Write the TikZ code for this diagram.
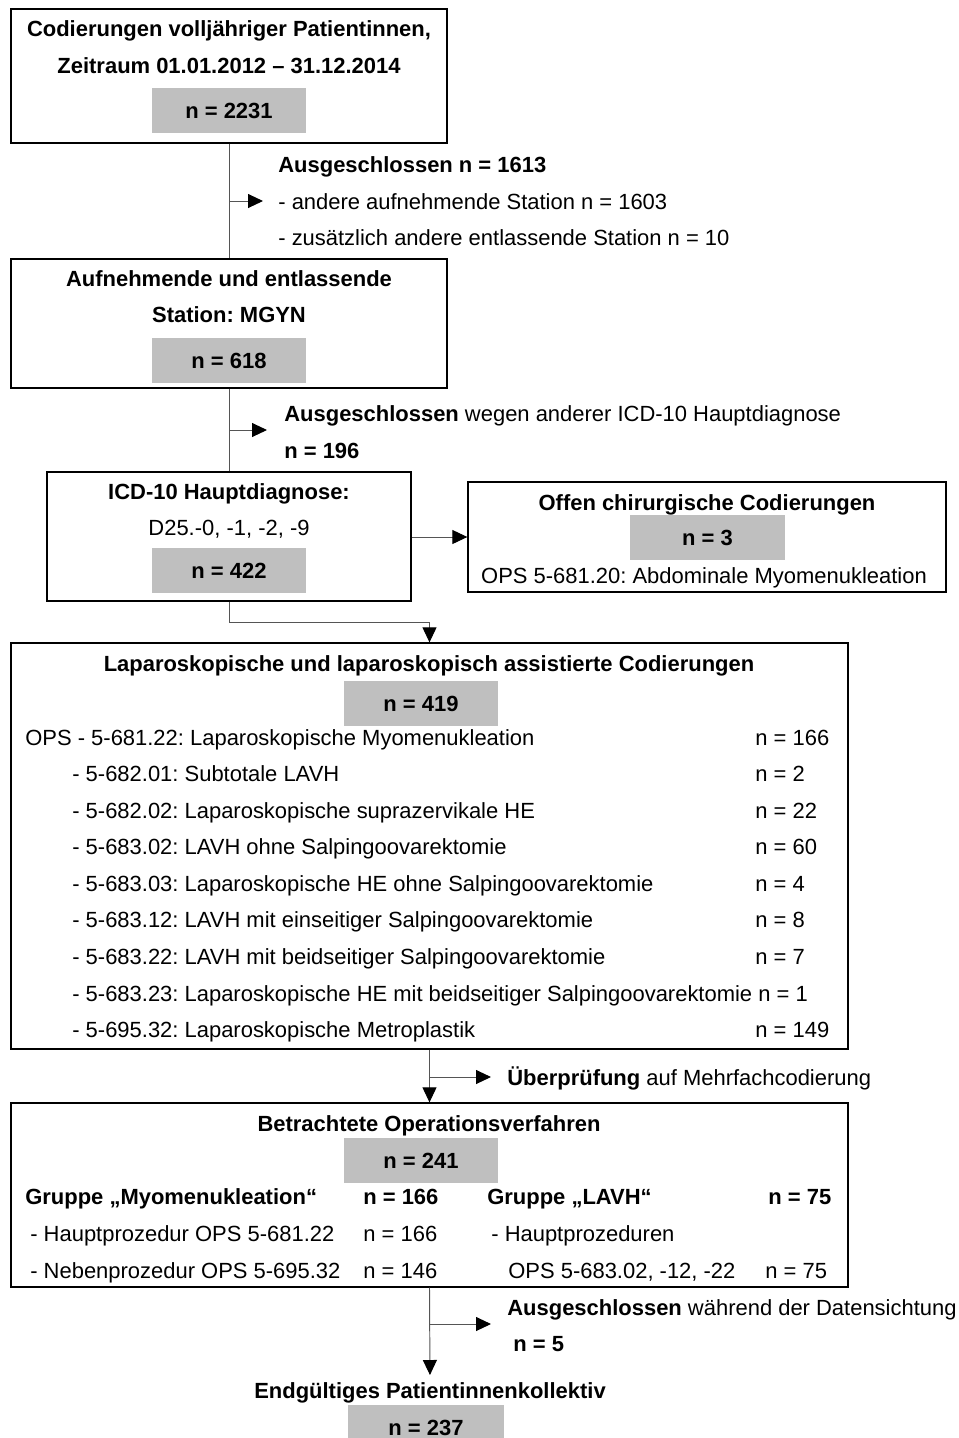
\documentclass[tikz,border=0pt]{standalone}
\usepackage{fontspec}
\setmainfont{Liberation Sans}
\usetikzlibrary{arrows.meta, fit}

\definecolor{nfill}{RGB}{191,191,191}
\definecolor{linegray}{RGB}{85,85,85}

\begin{document}
\frenchspacing
\fontsize{12.5}{15}\selectfont
\begin{tikzpicture}[x=0.02cm, y=-0.02cm,
    box/.style={draw=black, line width=0.75pt, inner sep=0pt},
    nbox/.style={fill=nfill, inner sep=0pt},
    txt/.style={inner sep=0pt, anchor=mid west, yshift=-1.4pt},
    ctxt/.style={inner sep=0pt, anchor=mid, yshift=-1.4pt},
    conn/.style={draw=linegray, line width=0.55pt},
    arr/.style={conn, -{Triangle[length=3mm, width=2.8mm, color=black]}}]

    \useasboundingbox (0,0) rectangle (958,1438);

    % ===== Box 1: Codierungen =====
    \node[box, fit={(11,9) (447,143)}] (codierungen) {};
    \node[ctxt, font=\bfseries] (codTitleA) at (229,28) {Codierungen volljähriger Patientinnen,};
    \node[ctxt, font=\bfseries] (codTitleB) at (229,65) {Zeitraum 01.01.2012 – 31.12.2014};
    \node[nbox, fit={(152,88) (306,133)}] (codN) {};
    \node[ctxt, font=\bfseries] (codNText) at (codN) {n = 2231};

    % Exclusion: other ward
    \node[txt, font=\bfseries] (exclStationA) at (278,164) {Ausgeschlossen n = 1613};
    \node[txt] (exclStationB) at (278,201) {- andere aufnehmende Station n = 1603};
    \node[txt] (exclStationC) at (278,237) {- zusätzlich andere entlassende Station n = 10};
    \coordinate (exclStationEnd) at (263,201);

    % ===== Box 2: Station MGYN =====
    \node[box, fit={(11,259) (447,388)}] (station) {};
    \node[ctxt, font=\bfseries] (stationTitleA) at (229,278) {Aufnehmende und entlassende};
    \node[ctxt, font=\bfseries] (stationTitleB) at (229,314) {Station: MGYN};
    \node[nbox, fit={(152,338) (306,383)}] (stationN) {};
    \node[ctxt, font=\bfseries] (stationNText) at (stationN) {n = 618};

    % Exclusion: other main diagnosis
    \node[txt] (exclDiagA) at (284,413) {\textbf{Ausgeschlossen} wegen anderer ICD-10 Hauptdiagnose};
    \node[txt, font=\bfseries] (exclDiagB) at (284,450) {n = 196};
    \coordinate (exclDiagEnd) at (267,430);

    % ===== Box 3: ICD-10 =====
    \node[box, fit={(47,472) (411,601)}] (icd) {};
    \node[ctxt, font=\bfseries] (icdTitle) at (229,491) {ICD-10 Hauptdiagnose:};
    \node[ctxt] (icdCodes) at (229,527) {D25.-0, -1, -2, -9};
    \node[nbox, fit={(152,548) (306,593)}] (icdN) {};
    \node[ctxt, font=\bfseries] (icdNText) at (icdN) {n = 422};

    % ===== Box 4: Offen chirurgisch =====
    \node[box, fit={(468,482) (946,592)}] (offen) {};
    \node[ctxt, font=\bfseries] (offenTitle) at (707,502) {Offen chirurgische Codierungen};
    \node[nbox, fit={(630,515) (785,560)}] (offenN) {};
    \node[ctxt, font=\bfseries] (offenNText) at (offenN) {n = 3};
    \node[ctxt] (offenOps) at (704,575) {OPS 5-681.20: Abdominale Myomenukleation};

    % ===== Box 5: Laparoskopisch =====
    \node[box, fit={(11,643) (848,1049)}] (lapa) {};
    \node[ctxt, font=\bfseries] (lapaTitle) at (429,663) {Laparoskopische und laparoskopisch assistierte Codierungen};
    \node[nbox, fit={(344,681) (498,726)}] (lapaN) {};
    \node[ctxt, font=\bfseries] (lapaNText) at (lapaN) {n = 419};
    \node[txt] (lapaOpsA) at (25,737) {OPS - 5-681.22: Laparoskopische Myomenukleation};
    \node[txt] (lapaNA) at (755,737) {n = 166};
    \node[txt] (lapaOpsB) at (72,773) {- 5-682.01: Subtotale LAVH};
    \node[txt] (lapaNB) at (755,773) {n = 2};
    \node[txt] (lapaOpsC) at (72,810) {- 5-682.02: Laparoskopische suprazervikale HE};
    \node[txt] (lapaNC) at (755,810) {n = 22};
    \node[txt] (lapaOpsD) at (72,846) {- 5-683.02: LAVH ohne Salpingoovarektomie};
    \node[txt] (lapaND) at (755,846) {n = 60};
    \node[txt] (lapaOpsE) at (72,883) {- 5-683.03: Laparoskopische HE ohne Salpingoovarektomie};
    \node[txt] (lapaNE) at (755,883) {n = 4};
    \node[txt] (lapaOpsF) at (72,919) {- 5-683.12: LAVH mit einseitiger Salpingoovarektomie};
    \node[txt] (lapaNF) at (755,919) {n = 8};
    \node[txt] (lapaOpsG) at (72,956) {- 5-683.22: LAVH mit beidseitiger Salpingoovarektomie};
    \node[txt] (lapaNG) at (755,956) {n = 7};
    \node[txt] (lapaOpsH) at (72,993) {- 5-683.23: Laparoskopische HE mit beidseitiger Salpingoovarektomie n = 1};
    \node[txt] (lapaOpsI) at (72,1029) {- 5-695.32: Laparoskopische Metroplastik};
    \node[txt] (lapaNI) at (755,1029) {n = 149};

    % Check for multiple coding
    \node[txt] (pruef) at (507,1077) {\textbf{Überprüfung} auf Mehrfachcodierung};
    \coordinate (pruefEnd) at (491,1077);

    % ===== Box 6: Betrachtete Operationsverfahren =====
    \node[box, fit={(11,1103) (848,1287)}] (betr) {};
    \node[ctxt, font=\bfseries] (betrTitle) at (429,1123) {Betrachtete Operationsverfahren};
    \node[nbox, fit={(344,1138) (498,1183)}] (betrN) {};
    \node[ctxt, font=\bfseries] (betrNText) at (betrN) {n = 241};
    \node[txt, font=\bfseries] (myomGroup) at (25,1196) {Gruppe „Myomenukleation“};
    \node[txt, font=\bfseries] (myomGroupN) at (363,1196) {n = 166};
    \node[txt] (myomHaupt) at (30,1233) {- Hauptprozedur OPS 5-681.22};
    \node[txt] (myomHauptN) at (363,1233) {n = 166};
    \node[txt] (myomNeben) at (30,1270) {- Nebenprozedur OPS 5-695.32};
    \node[txt] (myomNebenN) at (363,1270) {n = 146};
    \node[txt, font=\bfseries] (lavhGroup) at (487,1196) {Gruppe „LAVH“};
    \node[txt, font=\bfseries] (lavhGroupN) at (768,1196) {n = 75};
    \node[txt] (lavhHaupt) at (491,1233) {- Hauptprozeduren};
    \node[txt] (lavhOps) at (508,1270) {OPS 5-683.02, -12, -22};
    \node[txt] (lavhOpsN) at (765,1270) {n = 75};

    % Exclusion during data review
    \node[txt] (exclDatenA) at (507,1307) {\textbf{Ausgeschlossen} während der Datensichtung};
    \node[txt, font=\bfseries] (exclDatenB) at (513,1343) {n = 5};
    \coordinate (exclDatenEnd) at (491,1324);

    % ===== Final cohort =====
    \node[ctxt, font=\bfseries] (endTitle) at (430,1390) {Endgültiges Patientinnenkollektiv};
    \node[nbox, fit={(348,1405) (504,1448)}] (endN) {};
    \node[ctxt, font=\bfseries] (endNText) at (426,1427) {n = 237};

    % ===== Connectors =====
    \draw[conn] (codierungen.south) -- (station.north);
    \draw[arr] (codierungen.south |- exclStationEnd) -- (exclStationEnd);
    \draw[conn] (station.south) -- (station.south |- icd.north);
    \draw[arr] (station.south |- exclDiagEnd) -- (exclDiagEnd);
    \draw[arr] (icd.east |- offen.west) -- (offen.west);
    \draw[arr] (icd.south) -- ++(0,21) -| (lapa.north);
    \draw[arr] (lapa.south) -- (betr.north);
    \draw[arr] (lapa.south |- pruefEnd) -- (pruefEnd);
    \draw[arr, shorten >=1.4mm] (betr.south) -- (endTitle.north);
    \draw[arr] (betr.south |- exclDatenEnd) -- (exclDatenEnd);

\end{tikzpicture}
\end{document}
